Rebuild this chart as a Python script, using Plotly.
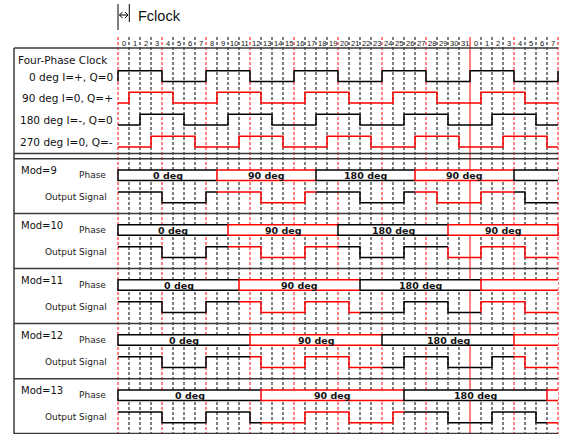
import plotly.graph_objects as go

# ---------------- data ----------------
cell_labels = ["0", "1", "2", "3", "4", "5", "6", "7", "8", "9", "10", "11", "12", "13", "14", "15",
               "16", "17", "18", "19", "20", "21", "22", "23", "24", "25", "26", "27", "28", "29", "30", "31",
               "0", "1", "2", "3", "4", "5", "6", "7"]

clock_names = ["0 deg I=+, Q=0", "90 deg I=0, Q=+", "180 deg I=-, Q=0", "270 deg I=0, Q=-"]
clock_colors = ["black", "red", "black", "red"]
# levels for cells -1 .. 40 (first/last char only give the edge at x=0 / x=40)
clock_waves = [
    "0" + "1111000011110000111100001111000011110000" + "1",
    "0" + "0111100001111000011110000111100001111000" + "0",
    "0" + "0011110000111100001111000011110000111100" + "0",
    "0" + "0001111000011110000111100001111000011110" + "0",
]

mod_names = ["Mod=9", "Mod=10", "Mod=11", "Mod=12", "Mod=13"]
phase_bounds = [
    [0, 9, 18, 27, 36, 40],
    [0, 10, 20, 30, 40],
    [0, 11, 22, 33, 40],
    [0, 12, 24, 36, 40],
    [0, 13, 26, 39, 40],
]
phase_labels = [
    ["0 deg", "90 deg", "180 deg", "90 deg", ""],
    ["0 deg", "90 deg", "180 deg", "90 deg"],
    ["0 deg", "90 deg", "180 deg", ""],
    ["0 deg", "90 deg", "180 deg", ""],
    ["0 deg", "90 deg", "180 deg", ""],
]
phase_colors = [
    ["black", "red", "black", "red", "black"],
    ["black", "red", "black", "red"],
    ["black", "red", "black", "red"],
    ["black", "red", "black", "red"],
    ["black", "red", "black", "red"],
]
phase_open_end = [True, False, True, True, True]
output_waves = [
    "1111" "0000" "11111" "0000" "11111" "0000" "111" "0000" "1111" "000",
    "1111" "0000" "11111" "0000" "11111" "0000" "1111" "000" "1111" "000",
    "1111" "0000" "11111" "0000" "1111" "00000" "1111" "000" "1111" "000",
    "1111" "0000" "11111" "0000" "1111" "00000" "1111" "0000" "111" "000",
    "1111" "0000" "1111" "00000" "1111" "0000" "11111" "0000" "1111" "00",
]

# ---------------- layout constants ----------------
W, H = 561, 434
X0_PX, CELL_PX = 118.0, 11.0
N = 40
RED = "#ff0000"
BLK = "#000000"
FRAME = "#3a3a3a"
FONT = "DejaVu Sans"


def px(p):
    return (p - X0_PX) / CELL_PX


def col(c):
    return RED if c == "red" else BLK


fig = go.Figure()
shapes = []
ann = []

# grid lines
for k in range(N + 1):
    if k == 32:
        dash, c = "solid", RED
    elif k % 4 == 0:
        dash, c = "3px,2px", RED
    else:
        dash, c = "3px,2px", BLK
    shapes.append(dict(type="line", xref="x", yref="y", x0=k, x1=k, y0=37, y1=H,
                       line=dict(color=c, width=1, dash=dash), layer="below"))

# frame lines
for yy in [48, 153.5, 158.7, 213.5, 268.5, 323.5, 378.8, 433.5]:
    shapes.append(dict(type="line", xref="x", yref="y", x0=px(14), x1=N, y0=yy, y1=yy,
                       line=dict(color=FRAME, width=1.5), layer="below"))
shapes.append(dict(type="line", xref="x", yref="y", x0=px(14), x1=px(14), y0=48, y1=H,
                   line=dict(color=FRAME, width=1.5), layer="below"))

# Fclock marker
for (xa, ya, xb, yb) in [(118, 4, 118, 30), (129.3, 4, 129.3, 22),
                         (119.5, 15, 128, 15),
                         (119.5, 15, 122.5, 12), (119.5, 15, 122.5, 18),
                         (128, 15, 125, 12), (128, 15, 125, 18)]:
    shapes.append(dict(type="line", xref="x", yref="y", x0=px(xa), x1=px(xb), y0=ya, y1=yb,
                       line=dict(color=BLK, width=1)))
ann.append(dict(x=px(136), y=16, text="Fclock", xanchor="left", yanchor="middle",
                font=dict(family="Liberation Sans", size=14.5, color="#111")))

# cell labels
for i, t in enumerate(cell_labels):
    ann.append(dict(x=i + 0.5, y=43, text=t, xanchor="center", yanchor="middle",
                    font=dict(family="Liberation Sans", size=7.5, color="#111")))


def step_xy(levels, s, e, prev, hi, lo):
    yv = lambda v: hi if v == "1" else lo
    xs, ys = [], []
    if prev is not None and prev != levels[s]:
        xs.append(s); ys.append(yv(prev))
    xs.append(s); ys.append(yv(levels[s]))
    for i in range(s + 1, e):
        if levels[i] != levels[i - 1]:
            xs += [i, i]; ys += [yv(levels[i - 1]), yv(levels[i])]
    xs.append(e); ys.append(yv(levels[e - 1]))
    return xs, ys


# four phase clock
ann.append(dict(x=px(16), y=59.5, text="Four-Phase Clock", xanchor="left", yanchor="middle",
                font=dict(family=FONT, size=10.5, color="#111")))
clock_hi = [70.7, 92.3, 114.3, 136.3]
for name, c, wv, hi in zip(clock_names, clock_colors, clock_waves, clock_hi):
    lo = hi + 10.7
    lv = wv[1:41]
    xs, ys = step_xy(lv, 0, N, wv[0], hi, lo)
    if wv[41] != lv[-1]:
        xs.append(N); ys.append(hi if wv[41] == "1" else lo)
    fig.add_trace(go.Scatter(x=xs, y=ys, mode="lines", line=dict(color=col(c), width=1.5),
                             hoverinfo="skip"))
    ann.append(dict(x=px(115), y=hi + 6, text=name, xanchor="right", yanchor="middle",
                    font=dict(family=FONT, size=10.5, color="#111")))

# mod rows
mod_top = [158.7, 213.5, 268.5, 323.5, 378.8]
for m, top in enumerate(mod_top):
    ann.append(dict(x=px(19), y=top + 11.5, text=mod_names[m], xanchor="left", yanchor="middle",
                    font=dict(family=FONT, size=10, color="#111")))
    ann.append(dict(x=px(107.5), y=top + 16.5, text="Phase", xanchor="right", yanchor="middle",
                    font=dict(family=FONT, size=9, color="#222")))
    ann.append(dict(x=px(108.5), y=top + 38.5, text="Output Signal", xanchor="right", yanchor="middle",
                    font=dict(family=FONT, size=9, color="#222")))
    bt, bb = top + 11.3, top + 21.8
    hi, lo = top + 33.2, top + 44.0
    b = phase_bounds[m]
    lv = output_waves[m]
    for j in range(len(b) - 1):
        s, e = b[j], b[j + 1]
        c = col(phase_colors[m][j])
        last = j == len(b) - 2
        if last and not phase_open_end[m]:
            bx, by = [e, s, s, e, e], [bt, bt, bb, bb, bt]
        else:
            bx, by = [e, s, s, e], [bt, bt, bb, bb]
        fig.add_trace(go.Scatter(x=[s, e, e, s, s], y=[bt, bt, bb, bb, bt], mode="lines",
                                 fill="toself", fillcolor="white", line=dict(width=0),
                                 hoverinfo="skip"))
        fig.add_trace(go.Scatter(x=bx, y=by, mode="lines", line=dict(color=c, width=1.5),
                                 hoverinfo="skip"))
        if phase_labels[m][j]:
            ann.append(dict(x=(s + e) / 2, y=(bt + bb) / 2 + 0.5, text="<b>" + phase_labels[m][j] + "</b>",
                            xanchor="center", yanchor="middle",
                            font=dict(family=FONT, size=9.5, color="#111")))
        prev = lv[s - 1] if s > 0 else None
        xs, ys = step_xy(lv, s, e, prev, hi, lo)
        fig.add_trace(go.Scatter(x=xs, y=ys, mode="lines", line=dict(color=c, width=1.5),
                                 hoverinfo="skip"))

for a in ann:
    a.update(xref="x", yref="y", showarrow=False)

fig.update_layout(
    width=W, height=H, autosize=False,
    margin=dict(l=0, r=0, t=0, b=0, pad=0),
    paper_bgcolor="white", plot_bgcolor="white",
    showlegend=False, hovermode=False,
    xaxis=dict(range=[px(0), px(W)], visible=False, fixedrange=True),
    yaxis=dict(range=[H, 0], visible=False, fixedrange=True),
    shapes=shapes, annotations=ann,
)

fig.write_html("out.html", config={"displayModeBar": False, "staticPlot": True},
               post_script="document.body.style.margin='0';")
